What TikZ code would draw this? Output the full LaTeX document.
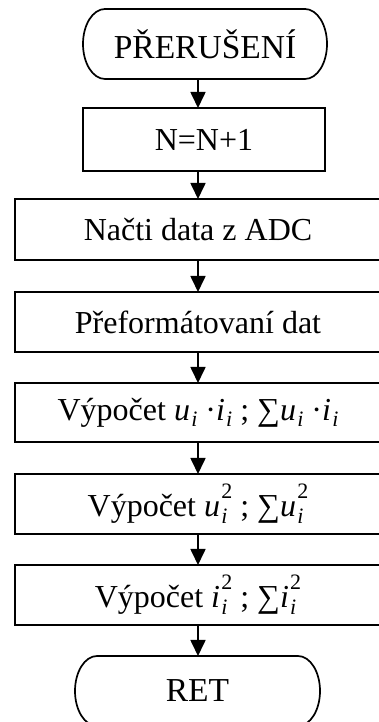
\documentclass[tikz,border=0pt]{standalone}
\usepackage{fontspec}
\setmainfont{Liberation Serif}
\usetikzlibrary{arrows.meta}

% italic subscript i and stacked superscript 2
\newcommand\subi{\kern0.04em\raisebox{-0.2em}{\fontsize{22}{22}\selectfont\itshape i}}
\newcommand\subsup{\rlap{\subi}\kern0.04em\raisebox{0.56em}{\fontsize{22}{22}\selectfont 2}}

\begin{document}
\begin{tikzpicture}[x=1pt,y=1pt,
  every node/.style={inner sep=0pt, outer sep=0pt},
  line/.style={line width=1.7pt},
  stepbox/.style={draw, line width=1.7pt, rectangle, font=\fontsize{32}{38}\selectfont},
  calcbox/.style={stepbox, font=\fontsize{32}{38}\selectfont},
  term/.style={rectangle, font=\fontsize{33.5}{40}\selectfont},
  arr/.style={line width=1.7pt, -{Triangle[width=15pt,length=16pt]}}]
\useasboundingbox (0,0) rectangle (379,722);

% terminators (pill shapes drawn below)
\node[term, minimum width=244pt, minimum height=70pt] (t1) at (205,678) {PŘERUŠENÍ};
\node[term, minimum width=245pt, minimum height=70pt] (t2) at (197.5,31) {RET};

% processing steps
\node[stepbox, minimum width=242pt, minimum height=63pt] (b1) at (204,582.5) {N=N+1};
\node[stepbox, minimum width=366pt, minimum height=61pt] (b2) at (198,492.5) {Načti data z ADC};
\node[stepbox, minimum width=366pt, minimum height=60pt] (b3) at (198,400) {Přeformátovaní dat};
\node[calcbox, minimum width=366pt, minimum height=59pt] (b4) at (198,309.5)
  {Výpočet \textit{u}\subi{} ·\textit{i}\subi{} ; ∑\textit{u}\subi{} ·\textit{i}\subi};
\node[calcbox, minimum width=366pt, minimum height=60pt] (b5) at (198,218)
  {Výpočet \textit{u}\subsup{} ; ∑\textit{u}\subsup};
\node[calcbox, minimum width=366pt, minimum height=60pt] (b6) at (198,127)
  {Výpočet \textit{i}\subsup{} ; ∑\textit{i}\subsup};

% pill outlines with elliptical ends
\foreach \t in {t1,t2}{
  \draw[line] ([xshift=22pt]\t.north west) -- ([xshift=-22pt]\t.north east)
    arc[start angle=90, end angle=-90, x radius=22pt, y radius=35pt]
    -- ([xshift=22pt]\t.south west)
    arc[start angle=270, end angle=90, x radius=22pt, y radius=35pt] -- cycle;
}

% connectors
\draw[arr] (t1.south -| b2.north) -- (b1.north -| b2.north);
\draw[arr] (b1.south -| b2.north) -- (b2.north);
\draw[arr] (b2.south) -- (b3.north);
\draw[arr] (b3.south) -- (b4.north);
\draw[arr] (b4.south) -- (b5.north);
\draw[arr] (b5.south) -- (b6.north);
\draw[arr] (b6.south) -- (t2.north -| b6.south);
\end{tikzpicture}
\end{document}
